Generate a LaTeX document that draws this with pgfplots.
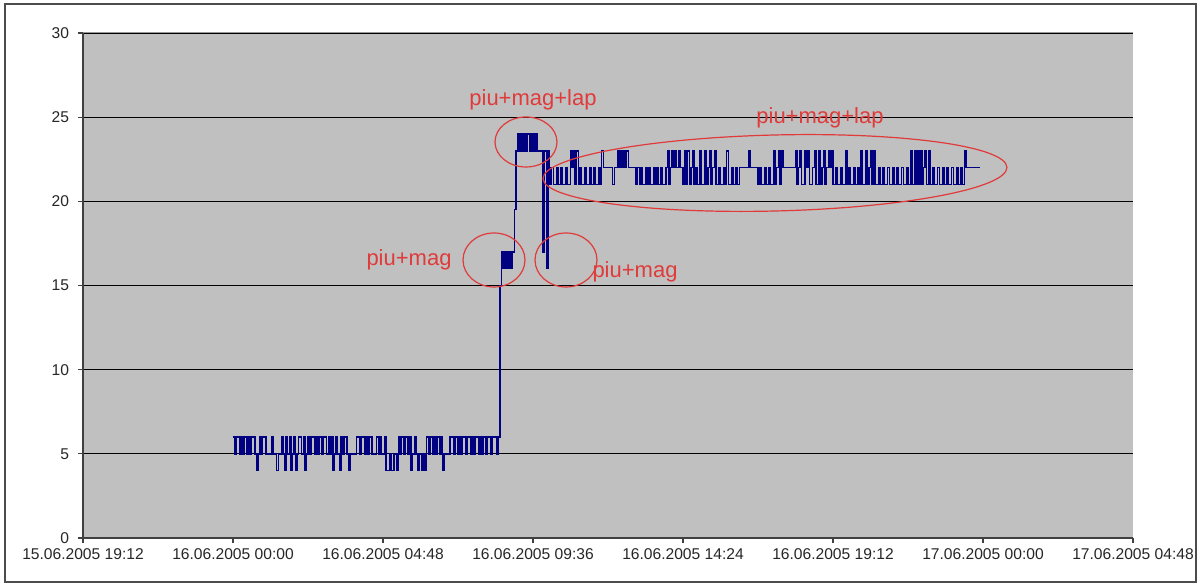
\documentclass[border=0pt]{standalone}
\usepackage{fontspec}
\setmainfont{Liberation Sans}
\usepackage{pgfplots}
\pgfplotsset{compat=1.18}

\definecolor{plotgray}{HTML}{C0C0C0}
\definecolor{series}{HTML}{000080}
\definecolor{annot}{HTML}{E03A3A}

\begin{document}
\begin{tikzpicture}
\begin{axis}[
  at={(0,0)}, anchor=south west,
  scale only axis, width=525pt, height=252.5pt,
  xmin=-4.8, xmax=28.8, ymin=0, ymax=30,
  xtick={-4.8,0,4.8,9.6,14.4,19.2,24,28.8},
  xticklabels={15.06.2005 19:12,16.06.2005 00:00,16.06.2005 04:48,16.06.2005 09:36,16.06.2005 14:24,16.06.2005 19:12,17.06.2005 00:00,17.06.2005 04:48},
  ytick={0,5,...,30},
  /pgf/number format/assume math mode=true,
  tick label style={font=\fontsize{7.8}{9}\selectfont, black!85},
  xticklabel style={yshift=0.5pt},
  yticklabel style={xshift=-1pt},
  axis lines=left,
  axis line style={-, draw=black!75, line width=0.7pt},
  tick align=outside, major tick length=2.5pt,
  tick style={draw=black!75, line width=0.6pt},
  ymajorgrids, grid style={black, line width=0.6pt},
  axis background/.style={fill=plotgray},
  clip=false,
]
% time in hours from 16.06.2005 00:00
\addplot[const plot, series, line width=0.7pt] coordinates {
(0.00,6)(0.05,5)(0.10,6)(0.15,6)(0.20,5)(0.25,6)(0.30,5)(0.35,6)(0.40,6)(0.45,5)
(0.50,6)(0.55,5)(0.60,6)(0.65,6)(0.70,5)(0.75,4)(0.80,5)(0.85,6)(0.90,5)(0.95,6)
(1.00,6)(1.05,5)(1.10,5)(1.15,5)(1.20,5)(1.25,6)(1.30,5)(1.35,5)(1.40,4)(1.45,5)
(1.50,5)(1.55,6)(1.60,5)(1.65,4)(1.70,6)(1.75,5)(1.80,6)(1.85,4)(1.90,5)(1.95,6)
(2.00,4)(2.05,5)(2.10,6)(2.15,6)(2.20,5)(2.25,6)(2.30,4)(2.35,5)(2.40,6)(2.45,5)
(2.50,6)(2.55,6)(2.60,5)(2.65,6)(2.70,5)(2.75,6)(2.80,6)(2.85,5)(2.90,6)(2.95,6)
(3.00,5)(3.05,6)(3.10,5)(3.15,6)(3.20,4)(3.25,5)(3.30,6)(3.35,5)(3.40,4)(3.45,6)
(3.50,5)(3.55,6)(3.60,6)(3.65,5)(3.70,4)(3.75,5)(3.80,5)(3.85,5)(3.90,5)(3.95,6)
(4.00,6)(4.05,5)(4.10,6)(4.15,6)(4.20,5)(4.25,6)(4.30,5)(4.35,6)(4.40,6)(4.45,5)
(4.50,5)(4.55,5)(4.60,6)(4.65,5)(4.70,6)(4.75,5)(4.80,5)(4.85,6)(4.90,4)(4.95,4)
(5.00,5)(5.05,4)(5.10,4)(5.15,5)(5.20,5)(5.25,4)(5.30,6)(5.35,5)(5.40,6)(5.45,5)
(5.50,6)(5.55,6)(5.60,5)(5.65,6)(5.70,4)(5.75,5)(5.80,6)(5.85,5)(5.90,4)(5.95,5)
(6.00,5)(6.05,4)(6.10,5)(6.15,4)(6.20,6)(6.25,5)(6.30,6)(6.35,6)(6.40,5)(6.45,6)
(6.50,5)(6.55,6)(6.60,5)(6.65,6)(6.70,4)(6.75,5)(6.80,5)(6.85,5)(6.90,5)(6.95,6)
(7.00,6)(7.05,5)(7.10,6)(7.15,6)(7.20,5)(7.25,6)(7.30,5)(7.35,6)(7.40,6)(7.45,5)
(7.50,6)(7.55,6)(7.60,5)(7.65,6)(7.70,5)(7.75,6)(7.80,6)(7.85,5)(7.90,6)(7.95,5)
(8.00,6)(8.05,6)(8.10,5)(8.15,6)(8.20,6)(8.25,5)(8.30,6)(8.35,6)(8.40,6)(8.45,5)
(8.50,6)
(8.55,15)(8.60,17)(8.625,16)(8.65,17)(8.675,16)(8.70,17)(8.725,16)(8.75,17)(8.775,16)
(8.80,17)(8.825,16)(8.85,17)(8.875,16)(8.90,17)(8.925,16)(8.95,17)(9.00,19.5)(9.05,23)
(9.10,24)(9.125,23)(9.15,24)(9.20,23)(9.225,24)(9.25,23)(9.275,24)(9.30,24)(9.35,23)
(9.375,24)(9.40,23)(9.425,24)(9.45,24)(9.50,23)(9.525,24)(9.55,23)(9.575,24)(9.60,23)
(9.65,24)(9.675,23)(9.70,24)(9.75,23)(9.80,23)(9.85,23)
(9.92,17)(9.97,23)(10.03,16)(10.08,23)
(10.13,22)(10.15,21)(10.20,22)(10.25,21)(10.30,21)(10.35,22)(10.40,21)(10.45,21)
(10.50,22)(10.55,21)(10.60,21)(10.65,22)(10.70,21)(10.75,21)(10.80,23)(10.85,22)(10.90,23)(10.95,21)
(11.00,23)(11.05,21)(11.10,22)(11.15,21)(11.20,21)(11.25,22)(11.30,21)(11.35,21)(11.40,22)(11.45,21)
(11.50,21)(11.55,22)(11.60,21)(11.65,21)(11.70,22)(11.75,21)(11.80,23)(11.85,22)(11.90,22)(11.95,22)
(12.00,22)(12.05,22)(12.10,22)(12.15,21)(12.20,22)(12.25,22)(12.30,23)(12.35,22)(12.40,23)(12.45,22)
(12.50,23)(12.55,22)(12.60,23)(12.65,22)(12.70,22)(12.75,22)(12.80,22)(12.85,22)(12.90,21)(12.95,22)
(13.00,21)(13.05,22)(13.10,21)(13.15,21)(13.20,22)(13.25,21)(13.30,22)(13.35,21)(13.40,21)(13.45,22)
(13.50,21)(13.55,22)(13.60,21)(13.65,21)(13.70,22)(13.75,21)(13.80,21)(13.85,22)(13.90,23)(13.95,21)
(14.00,22)(14.05,23)(14.10,22)(14.15,23)(14.20,22)(14.25,23)(14.30,22)(14.35,22)(14.40,21)(14.45,23)
(14.50,21)(14.55,23)(14.60,21)(14.65,22)(14.70,23)(14.75,21)(14.80,22)(14.85,21)(14.90,21)(14.95,23)
(15.00,21)(15.05,21)(15.10,23)(15.15,21)(15.20,22)(15.25,23)(15.30,21)(15.35,22)(15.40,23)(15.45,21)
(15.50,21)(15.55,22)(15.60,21)(15.65,21)(15.70,22)(15.75,21)(15.80,23)(15.85,21)(15.90,21)(15.95,22)
(16.00,21)(16.05,21)(16.10,22)(16.15,21)(16.20,22)(16.25,22)(16.30,22)(16.35,22)(16.40,22)(16.45,22)
(16.50,23)(16.55,22)(16.60,22)(16.65,22)(16.70,22)(16.75,22)(16.80,21)(16.85,22)(16.90,21)(16.95,21)
(17.00,22)(17.05,21)(17.10,21)(17.15,22)(17.20,21)(17.25,21)(17.30,23)(17.35,21)(17.40,22)(17.45,23)
(17.50,21)(17.55,23)(17.60,22)(17.65,22)(17.70,22)(17.75,22)(17.80,22)(17.85,22)(17.90,22)(17.95,22)
(18.00,23)(18.05,21)(18.10,22)(18.15,23)(18.20,21)(18.25,21)(18.30,23)(18.35,22)(18.40,23)(18.45,21)
(18.50,21)(18.55,22)(18.60,23)(18.65,21)(18.70,21)(18.75,23)(18.80,21)(18.85,22)(18.90,23)(18.95,21)
(19.00,22)(19.05,23)(19.10,22)(19.15,23)(19.20,21)(19.25,21)(19.30,22)(19.35,21)(19.40,21)(19.45,22)
(19.50,21)(19.55,21)(19.60,23)(19.65,21)(19.70,22)(19.75,21)(19.80,21)(19.85,22)(19.90,21)(19.95,21)
(20.00,22)(20.05,21)(20.10,23)(20.15,21)(20.20,21)(20.25,23)(20.30,21)(20.35,22)(20.40,23)(20.45,21)
(20.50,23)(20.55,21)(20.60,21)(20.65,22)(20.70,21)(20.75,21)(20.80,22)(20.85,21)(20.90,21)(20.95,22)
(21.00,21)(21.05,21)(21.10,22)(21.15,21)(21.20,21)(21.25,22)(21.30,21)(21.35,21)(21.40,22)(21.45,21)
(21.50,21)(21.55,22)(21.60,21)(21.65,21)(21.70,23)(21.75,21)(21.80,23)(21.85,21)(21.90,23)(21.95,21)
(22.00,23)(22.05,21)(22.10,22)(22.15,23)(22.20,21)(22.25,23)(22.30,21)(22.35,21)(22.40,22)(22.45,21)
(22.50,21)(22.55,22)(22.60,21)(22.65,21)(22.70,22)(22.75,21)(22.80,21)(22.85,22)(22.90,21)(22.95,21)
(23.00,22)(23.05,21)(23.10,21)(23.15,22)(23.20,21)(23.25,21)(23.30,22)(23.35,21)(23.40,23)(23.45,22)
(23.90,22)
};
\end{axis}
% top edge of the plot area
\draw[black!40, line width=0.5pt] (0,252.5pt) -- (525pt,252.5pt);
% annotations
\begin{scope}[annot, line width=0.6pt]
  \draw (221.5pt,198pt) ellipse [x radius=15.5pt, y radius=12.5pt];
  \draw (205.5pt,139pt) ellipse [x radius=15.5pt, y radius=13.5pt];
  \draw (241.5pt,139pt) ellipse [x radius=15.5pt, y radius=13.5pt];
  \draw[rotate around={1.4:(346pt,182.5pt)}] (346pt,182.5pt) ellipse [x radius=116pt, y radius=19pt];
  \node[font=\fontsize{11}{13}\selectfont] at (225pt,219pt) {piu+mag+lap};
  \node[font=\fontsize{11}{13}\selectfont] at (163pt,139pt) {piu+mag};
  \node[font=\fontsize{11}{13}\selectfont] at (276pt,133pt) {piu+mag};
  \node[font=\fontsize{11}{13}\selectfont] at (368.5pt,210pt) {piu+mag+lap};
\end{scope}
% chart area frame
\draw[black!70, line width=0.8pt] (-39pt,-22pt) rectangle (556.5pt,267pt);
\pgfresetboundingbox
\useasboundingbox (-41.5pt,-25pt) rectangle (558.5pt,269pt);
\end{tikzpicture}
\end{document}
